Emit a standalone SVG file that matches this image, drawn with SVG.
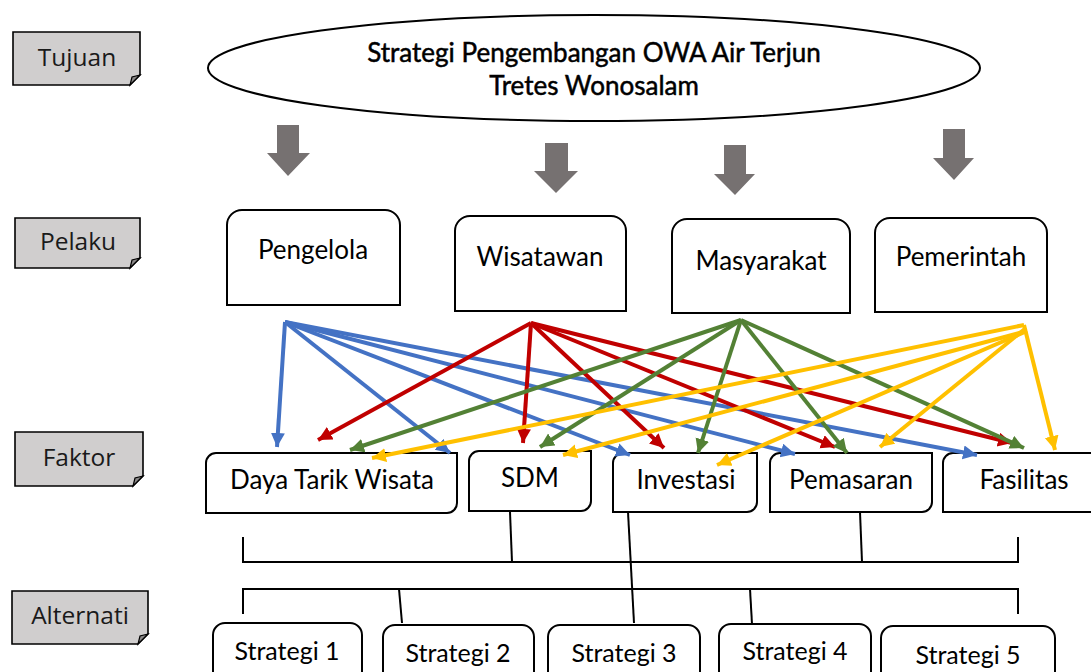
<svg xmlns="http://www.w3.org/2000/svg" width="1091" height="672" viewBox="0 0 1091 672">
<defs>
<style>
.lbl{fill:#D0CECE;stroke:#000;stroke-width:1.6}
.fold{fill:#8a8888;stroke:#000;stroke-width:1.2}
.box{fill:#fff;stroke:#000;stroke-width:2}
.t{font-family:Lato,"Open Sans",sans-serif;font-size:26px;fill:#000;text-anchor:middle}
.ts{font-size:25px}
.ttl{font-size:26px;stroke:#000;stroke-width:0.5}
.tl{font-family:"Open Sans",Lato,sans-serif;font-size:24.5px;fill:#1a1a1a;text-anchor:middle}
.gar{fill:#767171}
.c{fill:none;stroke-width:4}
.b{stroke:#4472C4}.r{stroke:#C00000}.g{stroke:#538135}.y{stroke:#FFC000}
.br{fill:none;stroke:#000;stroke-width:2}
</style>
<marker id="mb" markerUnits="userSpaceOnUse" markerWidth="16" markerHeight="16" refX="14" refY="7" orient="auto"><path d="M0,0L14,7L0,14z" fill="#4472C4"/></marker>
<marker id="mr" markerUnits="userSpaceOnUse" markerWidth="16" markerHeight="16" refX="14" refY="7" orient="auto"><path d="M0,0L14,7L0,14z" fill="#C00000"/></marker>
<marker id="mg" markerUnits="userSpaceOnUse" markerWidth="16" markerHeight="16" refX="14" refY="7" orient="auto"><path d="M0,0L14,7L0,14z" fill="#538135"/></marker>
<marker id="my" markerUnits="userSpaceOnUse" markerWidth="16" markerHeight="16" refX="14" refY="7" orient="auto"><path d="M0,0L14,7L0,14z" fill="#FFC000"/></marker>
</defs>
<rect width="1091" height="672" fill="#fff"/>

<!-- level labels -->
<g id="lbl-tujuan"><path class="lbl" d="M13,32H140V75L130,85H13Z"/><path class="fold" d="M140,75L130,85L132,77Z"/><text class="tl" x="77" y="66">Tujuan</text></g>
<g id="lbl-pelaku"><path class="lbl" d="M15,218H140V258L130,268H15Z"/><path class="fold" d="M140,258L130,268L132,260Z"/><text class="tl" x="78" y="250">Pelaku</text></g>
<g id="lbl-faktor"><path class="lbl" d="M15,432H143V476L133,486H15Z"/><path class="fold" d="M143,476L133,486L135,478Z"/><text class="tl" x="79" y="466">Faktor</text></g>
<g id="lbl-alternatif"><path class="lbl" d="M12,591H148V634L138,644H12Z"/><path class="fold" d="M148,634L138,644L140,636Z"/><text class="tl" x="80" y="624">Alternati</text></g>

<!-- goal -->
<g id="goal">
<ellipse cx="594" cy="68" rx="386" ry="53" fill="#fff" stroke="#000" stroke-width="2"/>
<text class="t ttl" x="594" y="62">Strategi Pengembangan OWA Air Terjun</text>
<text class="t ttl" x="594" y="95">Tretes Wonosalam</text>
</g>

<!-- block arrows -->
<g id="block-arrows">
<path class="gar" d="M277,125H299V153H310L288,176L267,153H277Z"/>
<path class="gar" d="M545,143H568V171H578L556,193L534,171H545Z"/>
<path class="gar" d="M724,145H746V174H755L735,195L714,174H724Z"/>
<path class="gar" d="M943,129H965V158H974L954,180L933,158H943Z"/>
</g>

<!-- actors -->
<g id="pengelola"><path class="box" d="M242,210H385A15,15 0 0 1 400,225V305H227V225A15,15 0 0 1 242,210Z"/><text class="t" x="313" y="259">Pengelola</text></g>
<g id="wisatawan"><path class="box" d="M470,216H611A15,15 0 0 1 626,231V311H455V231A15,15 0 0 1 470,216Z"/><text class="t" x="540" y="266">Wisatawan</text></g>
<g id="masyarakat"><path class="box" d="M687,219H835A15,15 0 0 1 850,234V313H672V234A15,15 0 0 1 687,219Z"/><text class="t" x="761" y="270">Masyarakat</text></g>
<g id="pemerintah"><path class="box" d="M890,218H1032A15,15 0 0 1 1047,233V312H875V233A15,15 0 0 1 890,218Z"/><text class="t" x="961" y="266">Pemerintah</text></g>

<!-- factors -->
<g id="daya-tarik"><path class="box" d="M216,453H457V503A10,10 0 0 1 447,513H206V463A10,10 0 0 1 216,453Z"/><text class="t" x="332" y="489">Daya Tarik Wisata</text></g>
<g id="sdm"><path class="box" d="M479,451H591V501A10,10 0 0 1 581,511H469V461A10,10 0 0 1 479,451Z"/><text class="t" x="530" y="487">SDM</text></g>
<g id="investasi"><path class="box" d="M623,453H757V502A10,10 0 0 1 747,512H613V463A10,10 0 0 1 623,453Z"/><text class="t" x="686" y="489">Investasi</text></g>
<g id="pemasaran"><path class="box" d="M780,453H932V502A10,10 0 0 1 922,512H770V463A10,10 0 0 1 780,453Z"/><text class="t" x="851" y="489">Pemasaran</text></g>
<g id="fasilitas"><path class="box" d="M953,453H1100V512H943V463A10,10 0 0 1 953,453Z"/><text class="t" x="1024" y="489">Fasilitas</text></g>

<!-- alternatives -->
<g id="strategi1"><path class="box" d="M225,623H350A12,12 0 0 1 362,635V690H213V635A12,12 0 0 1 225,623Z"/><text class="t ts" x="287" y="660">Strategi 1</text></g>
<g id="strategi2"><path class="box" d="M395,625H522A12,12 0 0 1 534,637V690H383V637A12,12 0 0 1 395,625Z"/><text class="t ts" x="458" y="662">Strategi 2</text></g>
<g id="strategi3"><path class="box" d="M560,625H688A12,12 0 0 1 700,637V690H548V637A12,12 0 0 1 560,625Z"/><text class="t ts" x="624" y="662">Strategi 3</text></g>
<g id="strategi4"><path class="box" d="M731,624H859A12,12 0 0 1 871,636V690H719V636A12,12 0 0 1 731,624Z"/><text class="t ts" x="795" y="660">Strategi 4</text></g>
<g id="strategi5"><path class="box" d="M893,626H1043A12,12 0 0 1 1055,638V690H881V638A12,12 0 0 1 893,626Z"/><text class="t ts" x="968" y="664">Strategi 5</text></g>

<!-- connectors -->
<g id="connectors">
<g id="blue">
<line class="c b" x1="285" y1="322" x2="277" y2="447" marker-end="url(#mb)"/>
<line class="c b" x1="285" y1="322" x2="450" y2="453" marker-end="url(#mb)"/>
<line class="c b" x1="285" y1="322" x2="630" y2="455" marker-end="url(#mb)"/>
<line class="c b" x1="285" y1="322" x2="795" y2="454" marker-end="url(#mb)"/>
<line class="c b" x1="285" y1="322" x2="977" y2="455" marker-end="url(#mb)"/>
</g>
<g id="red">
<line class="c r" x1="531" y1="323" x2="318" y2="440" marker-end="url(#mr)"/>
<line class="c r" x1="531" y1="323" x2="523" y2="443" marker-end="url(#mr)"/>
<line class="c r" x1="531" y1="323" x2="664" y2="448" marker-end="url(#mr)"/>
<line class="c r" x1="531" y1="323" x2="835" y2="447" marker-end="url(#mr)"/>
<line class="c r" x1="531" y1="323" x2="1012" y2="443" marker-end="url(#mr)"/>
</g>
<g id="green">
<line class="c g" x1="741" y1="320" x2="350" y2="450" marker-end="url(#mg)"/>
<line class="c g" x1="741" y1="320" x2="540" y2="447" marker-end="url(#mg)"/>
<line class="c g" x1="741" y1="320" x2="698" y2="453" marker-end="url(#mg)"/>
<line class="c g" x1="741" y1="320" x2="847" y2="453" marker-end="url(#mg)"/>
<line class="c g" x1="741" y1="320" x2="1024" y2="448" marker-end="url(#mg)"/>
</g>
<g id="yellow">
<line class="c y" x1="1024" y1="325" x2="372" y2="458" marker-end="url(#my)"/>
<line class="c y" x1="1027" y1="331" x2="563" y2="455" marker-end="url(#my)"/>
<line class="c y" x1="1027" y1="331" x2="717" y2="465" marker-end="url(#my)"/>
<line class="c y" x1="1026" y1="328" x2="880" y2="447" marker-end="url(#my)"/>
<line class="c y" x1="1024" y1="325" x2="1055" y2="450" marker-end="url(#my)"/>
</g>
<g id="brackets">
<path class="br" d="M243,537V562H1018V537"/>
<path class="br" d="M510,512L512,562"/>
<path class="br" d="M860,512L862,562"/>
<path class="br" d="M628,512L634,623"/>
<path class="br" d="M243,614V589H1018V614"/>
<path class="br" d="M399,589L402,623"/>
<path class="br" d="M750,589L752,624"/>
</g>
</g>
</svg>
